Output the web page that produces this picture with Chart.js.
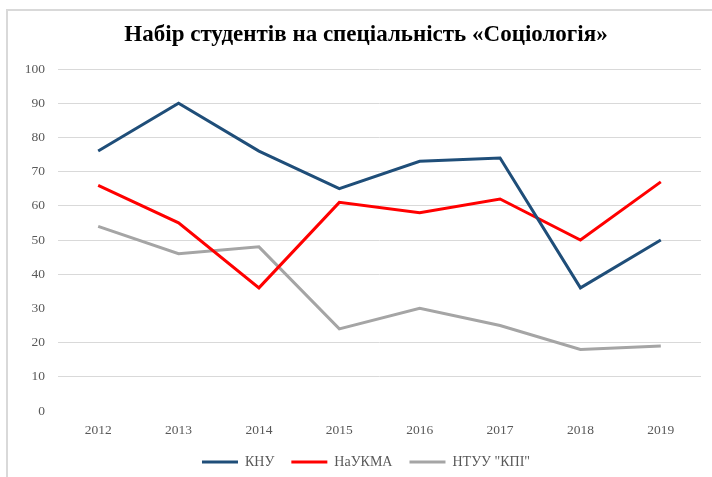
<!DOCTYPE html>
<html>
<head>
<meta charset="utf-8">
<script src="https://cdn.jsdelivr.net/npm/chart.js@4"></script>
<style>
  html, body { margin: 0; padding: 0; background: #fff; overflow: hidden; }
  #wrap { position: absolute; left: 0; top: 0; width: 712px; height: 490px; }
  #frame { position: absolute; left: 6px; top: 9px; width: 720px; height: 480px;
           border-left: 2px solid #d9d9d9; border-top: 2px solid #d9d9d9; }
</style>
</head>
<body>
<div id="frame"></div>
<div id="wrap"><canvas id="chart" width="712" height="490"></canvas></div>
<script>
const years = ['2012', '2013', '2014', '2015', '2016', '2017', '2018', '2019'];
const knu = [76, 90, 76, 65, 73, 74, 36, 50];
const naukma = [66, 55, 36, 61, 58, 62, 50, 67];
const kpi = [54, 46, 48, 24, 30, 25, 18, 19];
const seriesNames = ['КНУ', 'НаУКМА', 'НТУУ "КПІ"'];
const chartTitle = 'Набір студентів на спеціальність «Соціологія»';

const serif = "'Liberation Serif', 'Times New Roman', serif";
const tickColor = '#595959';

function lineSet(label, data, color) {
    return {
        label: label,
        data: data,
        borderColor: color,
        backgroundColor: color,
        borderWidth: 3,
        pointRadius: 0,
        tension: 0,
        fill: false
    };
}

const ctx = document.getElementById('chart').getContext('2d');
new Chart(ctx, {
    type: 'line',
    data: {
        labels: years,
        datasets: [
            lineSet(seriesNames[0], knu, '#1f4e79'),
            lineSet(seriesNames[1], naukma, '#ff0000'),
            lineSet(seriesNames[2], kpi, '#a5a5a5')
        ]
    },
    options: {
        responsive: false,
        animation: false,
        layout: { padding: { left: 23, right: 3, top: 0, bottom: 11 } },
        plugins: {
            title: {
                display: true,
                text: chartTitle,
                color: '#000',
                font: { family: serif, size: 23, weight: 'bold' },
                padding: { top: 21.5, bottom: 19.9 }
            },
            legend: {
                position: 'bottom',
                labels: {
                    color: tickColor,
                    font: { family: serif, size: 14 },
                    usePointStyle: true,
                    pointStyle: 'line',
                    pointStyleWidth: 36,
                    padding: 17
                }
            },
            tooltip: { enabled: false }
        },
        scales: {
            x: {
                offset: true,
                afterFit: (scale) => { scale.height = 27; },
                grid: { display: false, drawTicks: false },
                border: { display: false },
                ticks: {
                    color: tickColor,
                    font: { family: serif, size: 13.5 },
                    padding: 11,
                    maxRotation: 0
                }
            },
            y: {
                min: 0,
                max: 100,
                afterFit: (scale) => { scale.width = 35; },
                grid: {
                    drawTicks: false,
                    lineWidth: 1,
                    color: (c) => (c.tick && (c.tick.value === 0 || c.tick.value === 30)) ? 'rgba(0,0,0,0)' : '#d9d9d9'
                },
                border: { display: false },
                ticks: {
                    stepSize: 10,
                    color: tickColor,
                    font: { family: serif, size: 13.5 },
                    padding: 13
                }
            },
            y2: {
                position: 'right',
                afterFit: (scale) => { scale.width = 8; },
                grid: { display: false, drawTicks: false },
                border: { display: false },
                ticks: { display: false }
            }
        }
    }
});
</script>
</body>
</html>
